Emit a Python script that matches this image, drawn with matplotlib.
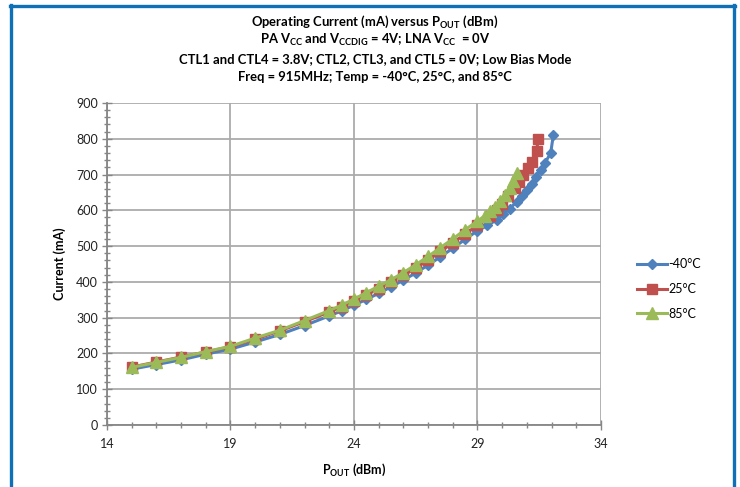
import numpy as np
import matplotlib.pyplot as plt
from matplotlib.lines import Line2D
from matplotlib.ticker import MultipleLocator

plt.rcParams['font.family'] = ['Lato', 'DejaVu Sans']
plt.rcParams['mathtext.fontset'] = 'custom'
plt.rcParams['mathtext.rm'] = 'Lato'
plt.rcParams['mathtext.it'] = 'Lato:italic'
plt.rcParams['mathtext.bf'] = 'Lato:bold'

# Data
x_m40 = [15, 16, 17, 18, 19, 20, 21, 22, 23, 23.5, 24, 24.5, 25, 25.5, 26, 26.5, 27, 27.5,
         28, 28.5, 29, 29.4, 29.8, 30.05, 30.3, 30.6, 30.8, 31.0, 31.2, 31.37, 31.56,
         31.73, 31.96, 32.07]
i_m40 = [156, 169, 182, 198, 212, 232, 253, 278, 305, 319, 335, 351, 368, 386, 405, 425, 447, 470,
         494, 519, 543, 558, 574, 589, 605, 624, 640, 657, 675, 694, 713,
         733, 759, 810]

x_25 = [15, 16, 17, 18, 19, 20, 21, 22, 23, 23.5, 24, 24.5, 25, 25.5, 26, 26.5, 27, 27.5,
        28, 28.5, 29, 29.5, 29.8, 30.0, 30.25, 30.5, 30.7, 30.86, 31.06, 31.2, 31.4, 31.45]
i_25 = [162, 176, 190, 204, 219, 240, 263, 289, 316, 331, 347, 364, 381, 399, 418, 439, 461, 485,
        509, 534, 558, 585, 602, 618, 640, 662, 680, 699, 717, 736, 765, 800]

x_85 = [15, 16, 17, 18, 19, 20, 21, 22, 23, 23.5, 24, 24.5, 25, 25.5, 26, 26.5, 27, 27.5,
        28, 28.5, 29, 29.3, 29.5, 29.7, 29.9, 30.1, 30.3, 30.45, 30.6]
i_85 = [161, 175, 189, 205, 220, 243, 265, 292, 320, 335, 352, 370, 388, 406, 426, 448, 471, 496,
        520, 546, 570, 585, 597, 610, 625, 643, 662, 681, 703]

labels = ['-40°C', '25°C', '85°C']
x_ticks = [14, 19, 24, 29, 34]

title_lines = [r'Operating Current (mA) versus P$_{\mathbf{OUT}}$ (dBm)',
               r'PA V$_{\mathbf{CC}}$ and V$_{\mathbf{CCDIG}}$ = 4V; LNA V$_{\mathbf{CC}}$  = 0V',
               'CTL1 and CTL4 = 3.8V; CTL2, CTL3, and CTL5 = 0V; Low Bias Mode',
               'Freq = 915MHz; Temp = -40°C, 25°C, and 85°C']

fig = plt.figure(figsize=(7.4, 4.87), dpi=100)
ax = fig.add_axes([107/740, 62/487, 494/740, 322/487])

ax.plot(x_m40, i_m40, '-D', color='#4F81BD', lw=2.2, ms=5, label=labels[0])
ax.plot(x_25, i_25, '-s', color='#C0504D', lw=2.2, ms=7, label=labels[1])
ax.plot(x_85, i_85, '-^', color='#9BBB59', lw=2.2, ms=8, label=labels[2])

ax.set_xlim(14, 34)
ax.set_ylim(0, 900)
ax.set_xticks(x_ticks)
ax.set_xticks(np.arange(14, 35, 1), minor=True)
ax.yaxis.set_major_locator(MultipleLocator(100))
ax.yaxis.set_minor_locator(MultipleLocator(20))
ax.grid(True, which='major', color='#ABABAB', lw=1.3)
ax.set_axisbelow(True)
for s in ['top', 'right']:
    ax.spines[s].set_visible(False)
for s in ['left', 'bottom']:
    ax.spines[s].set_color('#868686')
    ax.spines[s].set_linewidth(1.3)
ax.tick_params(which='major', direction='inout', length=7, width=1, color='#868686',
               labelsize=9, labelcolor='#222222', pad=3)
ax.tick_params(axis='x', which='major', pad=6)
ax.tick_params(which='minor', direction='inout', length=5, width=1, color='#868686')

ax.set_xlabel(r'P$_{\mathbf{OUT}}$ (dBm)', fontsize=9, fontweight='bold', labelpad=8)
ax.set_ylabel('Current (mA)', fontsize=9, fontweight='bold', labelpad=7)

for k, line in enumerate(title_lines):
    fig.text(375/740, 1 - (26 + 18.3 * k)/487, line, ha='center', va='baseline',
             fontsize=9.4, fontweight='bold')

fig.legend(loc='center left', bbox_to_anchor=(626/740, 1 - 289/487), frameon=False,
           fontsize=9, handlelength=2.4, handletextpad=0.1, labelspacing=1.0)

# blue frame
fc = '#0F70B7'
fig.add_artist(Line2D([10.5/740, 10.5/740], [0, 1 - 5/487], color=fc, lw=2.4))
fig.add_artist(Line2D([733.5/740, 733.5/740], [0, 1 - 5/487], color=fc, lw=2.4))
fig.add_artist(Line2D([9.5/740, 734.5/740], [1 - 6/487, 1 - 6/487], color=fc, lw=2.4))

fig.savefig('out.png', dpi=100)
